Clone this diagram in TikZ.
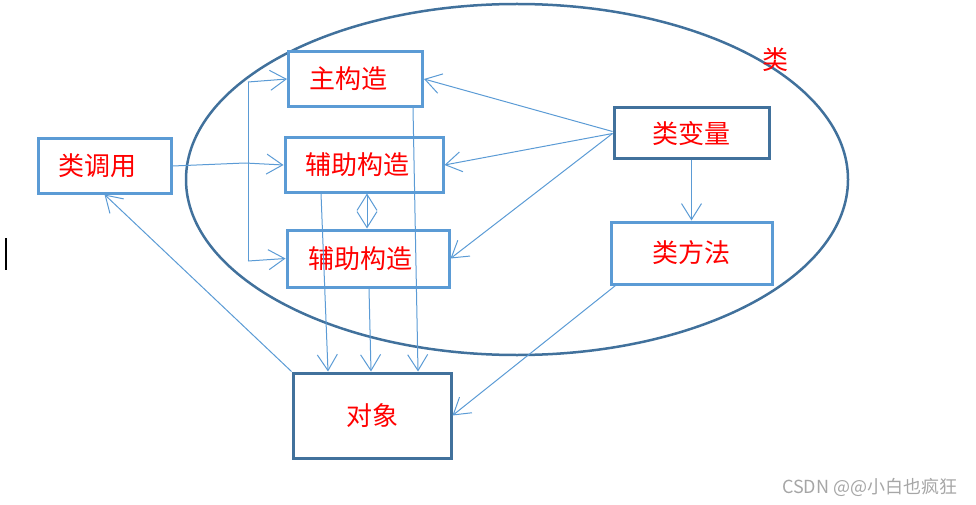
\documentclass[tikz,border=0pt]{standalone}
\usepackage{fontspec}
\newfontfamily\cjk{Noto Sans CJK SC}
\usetikzlibrary{arrows.meta,shapes.geometric,calc}
\definecolor{lblue}{HTML}{5B9BD5}
\definecolor{dblue}{HTML}{41719C}
\definecolor{wm}{HTML}{A6A6A6}
\tikzset{
  lbox/.style={draw=lblue, line width=3pt, fill=white, inner sep=0pt, text=red, font=\cjk\fontsize{26}{26}\selectfont},
  dbox/.style={lbox, draw=dblue},
  conn/.style={draw=lblue, line width=1pt},
  arr/.style={conn, -{Straight Barb[length=16pt,width=20pt]}},
  darr/.style={conn, {Straight Barb[length=16pt,width=20pt]}-{Straight Barb[length=16pt,width=20pt]}}
}
\begin{document}
\begin{tikzpicture}[x=1pt,y=-1pt]
\useasboundingbox (0,0) rectangle (976,505);
% class ellipse
\node[draw=dblue, line width=2.5pt, ellipse, minimum width=662pt, minimum height=351pt, inner sep=0pt] (cls) at (517,179.5) {};
\node[text=red, font=\cjk\fontsize{26}{26}\selectfont] (clslbl) at (775,60) {类};
% text cursor
\draw[line width=1.5pt] (6,238) -- (6,270);
% boxes
\node[lbox, minimum width=134pt, minimum height=55pt] (zhu) at (355.5,79) {主构造\hspace*{14pt}};
\node[lbox, minimum width=158pt, minimum height=54pt] (fz1) at (364,165) {辅助构造\hspace*{13pt}};
\node[lbox, minimum width=162pt, minimum height=57pt] (fz2) at (368,258.5) {辅助构造\hspace*{15pt}};
\node[lbox, minimum width=133pt, minimum height=54pt] (dyl) at (104.5,166) {类调用\hspace*{15pt}};
\node[dbox, minimum width=155pt, minimum height=51pt] (lbl) at (691.5,133.5) {类变量};
\node[lbox, minimum width=161pt, minimum height=62pt] (ff) at (691.5,253) {类方法};
\node[dbox, minimum width=158pt, minimum height=85pt] (dui) at (372,415.5) {对象};
% bus from 类调用
\coordinate (bt) at (248,82);
\coordinate (bm) at (245,163);
\coordinate (bb) at (248,261);
\draw[conn] (dyl.east) -- (bm);
\draw[conn] (bt) -- (bb);
\draw[arr] (bt) -- (zhu.west);
\draw[arr] (bm) -- (fz1.west);
\draw[arr] (bb) -- (fz2.west);
% from 类变量
\draw[arr] ([yshift=2pt]lbl.west) -- (zhu.east);
\draw[arr] (lbl.west) -- (fz1.east);
\draw[arr] (lbl.west) -- (fz2.east);
\draw[arr] (lbl.south) -- (ff.north);
% to 对象
\draw[arr] ([xshift=6pt]ff.south west) -- (dui.east);
\draw[arr] ([xshift=57.5pt]zhu.south) -- ([xshift=46pt]dui.north);
\draw[arr] ([xshift=-43pt]fz1.south) -- ([xshift=-44pt]dui.north);
\draw[arr] ([xshift=1pt]fz2.south) -- ([xshift=-1pt]dui.north);
\draw[darr] ([xshift=3pt]fz1.south) -- ([xshift=-1pt]fz2.north);
% back to 类调用
\draw[arr] (dui.north west) -- (dyl.south);
% watermark
\node[text=wm, font=\cjk\fontsize{18}{18}\selectfont, anchor=east] (wmk) at (961,487) {CSDN @@小白也疯狂};
\end{tikzpicture}
\end{document}
